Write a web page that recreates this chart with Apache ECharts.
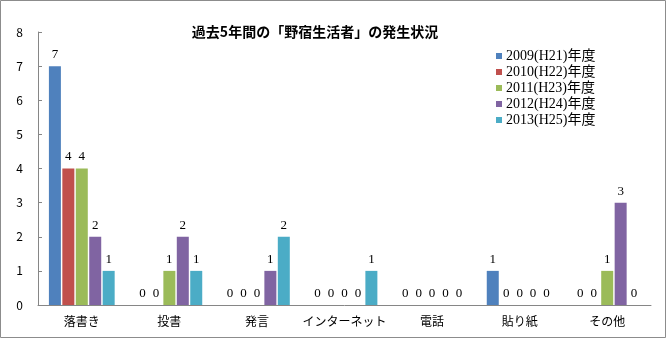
<!DOCTYPE html>
<html><head><meta charset="utf-8">
<script src="https://cdn.jsdelivr.net/npm/echarts@6/dist/echarts.min.js"></script>
<style>html,body{margin:0;padding:0;background:#fff}#c{width:666px;height:338px}</style>
</head><body><div id="c"></div>
<script>
const titleText = '過去5年間の「野宿生活者」の発生状況';
const categories = ['落書き','投書','発言','インターネット','電話','貼り紙','その他'];
const seriesNames = ['2009(H21)年度','2010(H22)年度','2011(H23)年度','2012(H24)年度','2013(H25)年度'];
const s2009 = [7,0,0,0,0,1,0];
const s2010 = [4,0,0,0,0,0,0];
const s2011 = [4,1,0,0,0,0,1];
const s2012 = [2,2,1,0,0,0,3];
const s2013 = [1,1,2,1,0,0,0];
const yTicks = [0,1,2,3,4,5,6,7,8];
const colors = ['#4F81BD','#C0504D','#9BBB59','#8064A2','#4BACC6'];
const allData = [s2009,s2010,s2011,s2012,s2013];
const serif = "'Liberation Serif','Noto Sans CJK JP',serif";
const sans = "'Noto Sans CJK JP','Noto Sans',sans-serif";
const chart = echarts.init(document.getElementById('c'));
chart.setOption({
  animation:false,
  backgroundColor:'#fff',
  graphic:[{type:'rect',shape:{x:0.5,y:0.5,width:665,height:337},style:{fill:'none',stroke:'#8c8c8c',lineWidth:1},silent:true}],
  title:{text:titleText,left:310,textAlign:'center',top:20,textStyle:{fontFamily:sans,fontSize:14,fontWeight:'bold',color:'#000'}},
  legend:{orient:'vertical',left:491,top:43,itemWidth:6,itemHeight:6,itemGap:0,icon:'rect',
    textStyle:{fontFamily:serif,fontSize:14,lineHeight:16,color:'#000',padding:[0,0,0,-1]},data:seriesNames},
  grid:{left:38,right:15,top:32,bottom:33,containLabel:false},
  xAxis:{type:'category',data:categories,
    axisLine:{lineStyle:{color:'#868686'}},
    axisTick:{inside:true,length:4,lineStyle:{color:'#868686'}},
    axisLabel:{interval:0,fontFamily:sans,fontSize:12,color:'#000',margin:10}},
  yAxis:{type:'value',min:0,max:8,interval:1,
    axisLine:{show:true,lineStyle:{color:'#868686'}},
    axisTick:{show:true,inside:true,length:4,lineStyle:{color:'#868686'}},
    splitLine:{show:false},
    axisLabel:{fontFamily:sans,fontSize:12,color:'#000',margin:15}},
  series: seriesNames.map((n,i)=>({
    name:n,type:'bar',data:allData[i],barWidth:12,barGap:'12%',
    itemStyle:{color:colors[i]},
    label:{show:true,position:'top',distance:5,fontFamily:serif,fontSize:13,color:'#000'}
  }))
});
</script></body></html>
